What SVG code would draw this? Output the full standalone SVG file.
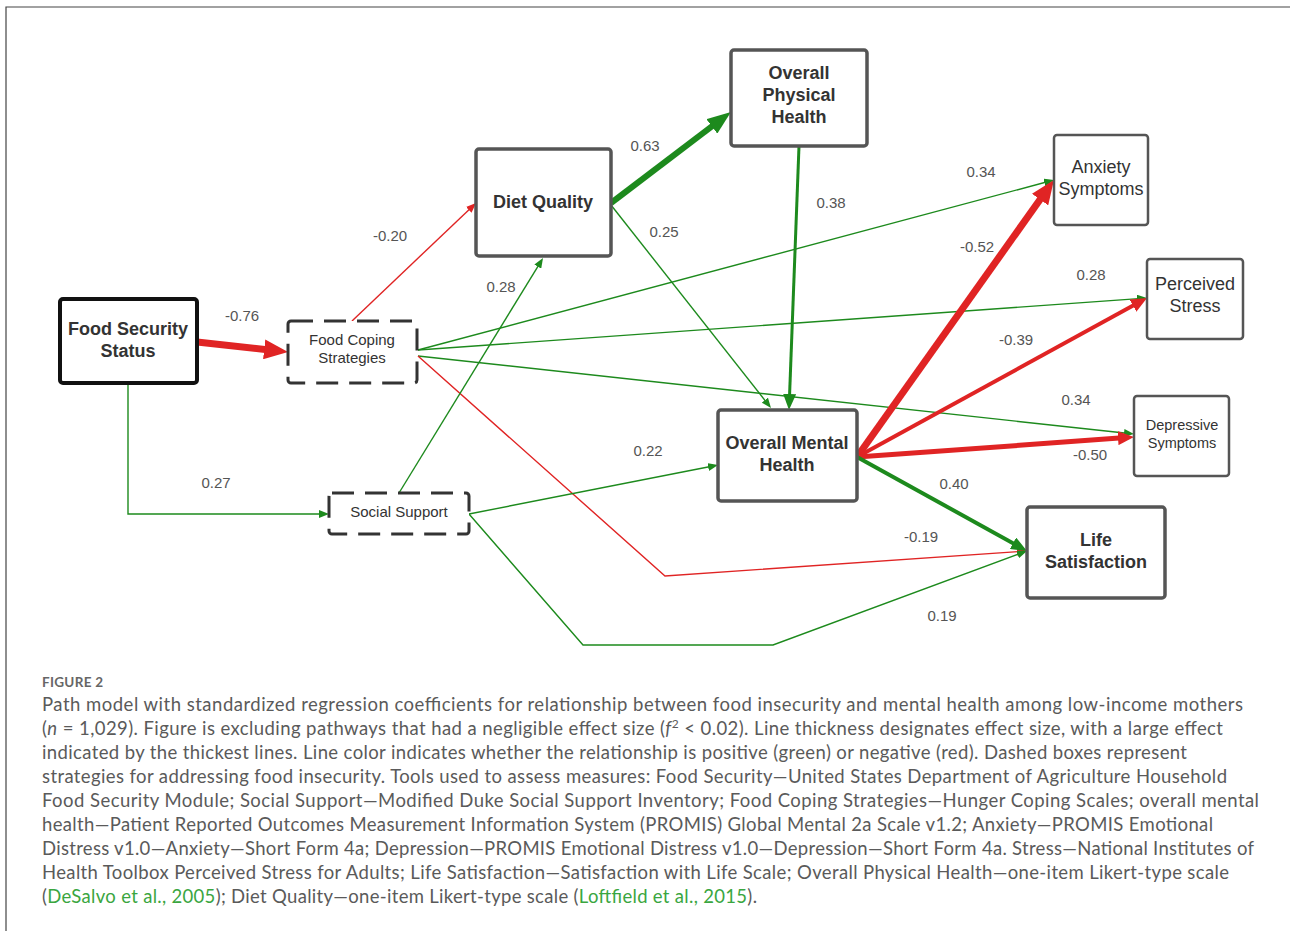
<svg xmlns="http://www.w3.org/2000/svg" width="1290" height="931" viewBox="0 0 1290 931">
<defs>
<style>
.bg{fill:#ffffff}
.frame{stroke:#444;stroke-width:1.2;fill:none}
.n-black{fill:#fff;stroke:#111;stroke-width:4}
.n-main{fill:#fff;stroke:#555;stroke-width:3.5}
.n-out{fill:#fff;stroke:#555;stroke-width:2.5}
.n-dash{fill:#fff;stroke:#333;stroke-width:3;stroke-dasharray:22 11}
.tb{font-family:"Liberation Sans",Arial,sans-serif;font-weight:bold;font-size:18px;fill:#333;text-anchor:middle}
.tr{font-family:"Liberation Sans",Arial,sans-serif;font-size:18px;fill:#333;text-anchor:middle}
.ts{font-family:"Liberation Sans",Arial,sans-serif;font-size:15px;fill:#333;text-anchor:middle}
.tx{font-family:"Liberation Sans",Arial,sans-serif;font-size:14.5px;fill:#333;text-anchor:middle}
.lab{font-family:"Liberation Sans",Arial,sans-serif;font-size:15px;fill:#555;text-anchor:middle}
.g{stroke:#1d8a1d;fill:none}
.r{stroke:#e02424;fill:none}
.cap{font-family:Lato,"Open Sans","Liberation Sans",sans-serif;font-size:18.5px;fill:#5a5a5a}
.fig{font-family:Lato,"Open Sans","Liberation Sans",sans-serif;font-size:13.5px;font-weight:bold;fill:#666;letter-spacing:0.3px}
.link{fill:#3aa63f}
</style>
<marker id="sg" markerUnits="userSpaceOnUse" markerWidth="10" markerHeight="8" refX="5" refY="4" orient="auto"><path d="M0,0 L10,4 L0,8 z" fill="#1d8a1d"/></marker>
<marker id="sr" markerUnits="userSpaceOnUse" markerWidth="10" markerHeight="8" refX="5" refY="4" orient="auto"><path d="M0,0 L10,4 L0,8 z" fill="#e02424"/></marker>
<marker id="mg" markerUnits="userSpaceOnUse" markerWidth="16" markerHeight="13" refX="8" refY="6.5" orient="auto"><path d="M0,0 L16,6.5 L0,13 z" fill="#1d8a1d"/></marker>
<marker id="mr" markerUnits="userSpaceOnUse" markerWidth="16" markerHeight="14" refX="8" refY="7" orient="auto"><path d="M0,0 L16,7 L0,14 z" fill="#e02424"/></marker>
<marker id="lg" markerUnits="userSpaceOnUse" markerWidth="24" markerHeight="18" refX="12" refY="9" orient="auto"><path d="M0,0 L24,9 L0,18 z" fill="#1d8a1d"/></marker>
<marker id="lr" markerUnits="userSpaceOnUse" markerWidth="24" markerHeight="20" refX="12" refY="10" orient="auto"><path d="M0,0 L24,10 L0,20 z" fill="#e02424"/></marker>
</defs>
<rect class="bg" x="0" y="0" width="1290" height="931"/>
<path class="frame" d="M6,931 L6,7 L1290,7"/>

<g id="connectors">
<path class="r" stroke-width="7" d="M197,342 L276.1,350.7" marker-end="url(#lr)"/>
<path class="r" stroke-width="1.4" d="M352,321 L472.4,206.4" marker-end="url(#sr)"/>
<path class="g" stroke-width="6" d="M611,203 L721.4,119.2" marker-end="url(#lg)"/>
<path class="g" stroke-width="1.4" d="M611,205 L767.9,404.1" marker-end="url(#sg)"/>
<path class="g" stroke-width="3" d="M799,146 L789.3,402" marker-end="url(#mg)"/>
<path class="g" stroke-width="1.4" d="M418,350 L1049.2,181.3" marker-end="url(#sg)"/>
<path class="g" stroke-width="1.4" d="M418,350 L1142,298.4" marker-end="url(#sg)"/>
<path class="g" stroke-width="1.4" d="M418,356 L1129,433.5" marker-end="url(#sg)"/>
<path class="r" stroke-width="1.4" d="M418,356 L665,576 L1022,551.3" marker-end="url(#sr)"/>
<path class="g" stroke-width="1.4" d="M399,493 L540.4,262.3" marker-end="url(#sg)"/>
<path class="g" stroke-width="1.4" d="M128,383 L128,514 L324,514" marker-end="url(#sg)"/>
<path class="g" stroke-width="1.4" d="M469,514 L713.1,466" marker-end="url(#sg)"/>
<path class="g" stroke-width="1.4" d="M469,514 L583,645 L773,645 L1022.3,552.7" marker-end="url(#sg)"/>
<path class="r" stroke-width="7" d="M857,457 L1047,189.8" marker-end="url(#lr)"/>
<path class="r" stroke-width="4" d="M857,457 L1140,301.8" marker-end="url(#mr)"/>
<path class="r" stroke-width="5" d="M857,457 L1126,437.6" marker-end="url(#mr)"/>
<path class="g" stroke-width="4" d="M857,457 L1020,547.1" marker-end="url(#mg)"/>
<text class="lab" x="242" y="321">-0.76</text>
<text class="lab" x="390" y="241">-0.20</text>
<text class="lab" x="645" y="151">0.63</text>
<text class="lab" x="664" y="237">0.25</text>
<text class="lab" x="831" y="208">0.38</text>
<text class="lab" x="981" y="177">0.34</text>
<text class="lab" x="1091" y="280">0.28</text>
<text class="lab" x="977" y="252">-0.52</text>
<text class="lab" x="1016" y="345">-0.39</text>
<text class="lab" x="1076" y="405">0.34</text>
<text class="lab" x="1090" y="460">-0.50</text>
<text class="lab" x="954" y="489">0.40</text>
<text class="lab" x="648" y="456">0.22</text>
<text class="lab" x="216" y="488">0.27</text>
<text class="lab" x="501" y="292">0.28</text>
<text class="lab" x="921" y="542">-0.19</text>
<text class="lab" x="942" y="621">0.19</text>
</g>

<g id="food-security-status">
<rect class="n-black" x="60" y="299" width="137" height="84" rx="3"/>
<text class="tb" x="128" y="335">Food Security</text>
<text class="tb" x="128" y="357">Status</text>
</g>
<g id="food-coping-strategies">
<rect class="n-dash" x="288" y="321" width="129" height="62" rx="3"/>
<text class="ts" x="352" y="345">Food Coping</text>
<text class="ts" x="352" y="363">Strategies</text>
</g>
<g id="diet-quality">
<rect class="n-main" x="476" y="149" width="135" height="107" rx="3"/>
<text class="tb" x="543" y="208">Diet Quality</text>
</g>
<g id="overall-physical-health">
<rect class="n-main" x="731" y="50" width="136" height="96" rx="3"/>
<text class="tb" x="799" y="79">Overall</text>
<text class="tb" x="799" y="101">Physical</text>
<text class="tb" x="799" y="123">Health</text>
</g>
<g id="anxiety-symptoms">
<rect class="n-out" x="1054" y="135" width="94" height="90" rx="3"/>
<text class="tr" x="1101" y="173">Anxiety</text>
<text class="tr" x="1101" y="195">Symptoms</text>
</g>
<g id="perceived-stress">
<rect class="n-out" x="1147" y="259" width="96" height="80" rx="3"/>
<text class="tr" x="1195" y="290">Perceived</text>
<text class="tr" x="1195" y="312">Stress</text>
</g>
<g id="depressive-symptoms">
<rect class="n-out" x="1134" y="396" width="95" height="80" rx="3"/>
<text class="tx" x="1182" y="430">Depressive</text>
<text class="tx" x="1182" y="448">Symptoms</text>
</g>
<g id="overall-mental-health">
<rect class="n-main" x="718" y="410" width="139" height="91" rx="3"/>
<text class="tb" x="787" y="449">Overall Mental</text>
<text class="tb" x="787" y="471">Health</text>
</g>
<g id="life-satisfaction">
<rect class="n-main" x="1027" y="507" width="138" height="91" rx="3"/>
<text class="tb" x="1096" y="546">Life</text>
<text class="tb" x="1096" y="568">Satisfaction</text>
</g>
<g id="social-support">
<rect class="n-dash" x="329" y="493" width="140" height="41" rx="3"/>
<text class="ts" x="399" y="517">Social Support</text>
</g>

<g id="caption">
<text class="fig" x="42" y="687">FIGURE 2</text>
<text class="cap" x="42" y="711" textLength="1201" lengthAdjust="spacing">Path model with standardized regression coefficients for relationship between food insecurity and mental health among low-income mothers</text>
<text class="cap" x="42" y="735" textLength="1181" lengthAdjust="spacing">(<tspan font-style="italic">n</tspan> = 1,029). Figure is excluding pathways that had a negligible effect size (<tspan font-style="italic">f</tspan><tspan font-size="12px" dy="-7">2</tspan><tspan dy="7"> &lt; 0.02). Line thickness designates effect size, with a large effect</tspan></text>
<text class="cap" x="42" y="759" textLength="1145" lengthAdjust="spacing">indicated by the thickest lines. Line color indicates whether the relationship is positive (green) or negative (red). Dashed boxes represent</text>
<text class="cap" x="42" y="783" textLength="1185" lengthAdjust="spacing">strategies for addressing food insecurity. Tools used to assess measures: Food Security—United States Department of Agriculture Household</text>
<text class="cap" x="42" y="807" textLength="1217" lengthAdjust="spacing">Food Security Module; Social Support—Modified Duke Social Support Inventory; Food Coping Strategies—Hunger Coping Scales; overall mental</text>
<text class="cap" x="42" y="831" textLength="1171" lengthAdjust="spacing">health—Patient Reported Outcomes Measurement Information System (PROMIS) Global Mental 2a Scale v1.2; Anxiety—PROMIS Emotional</text>
<text class="cap" x="42" y="855" textLength="1212" lengthAdjust="spacing">Distress v1.0—Anxiety—Short Form 4a; Depression—PROMIS Emotional Distress v1.0—Depression—Short Form 4a. Stress—National Institutes of</text>
<text class="cap" x="42" y="879" textLength="1187" lengthAdjust="spacing">Health Toolbox Perceived Stress for Adults; Life Satisfaction—Satisfaction with Life Scale; Overall Physical Health—one-item Likert-type scale</text>
<text class="cap" x="42" y="903" textLength="715" lengthAdjust="spacing">(<tspan class="link">DeSalvo et al., 2005</tspan>); Diet Quality—one-item Likert-type scale (<tspan class="link">Loftfield et al., 2015</tspan>).</text>
</g>
</svg>
